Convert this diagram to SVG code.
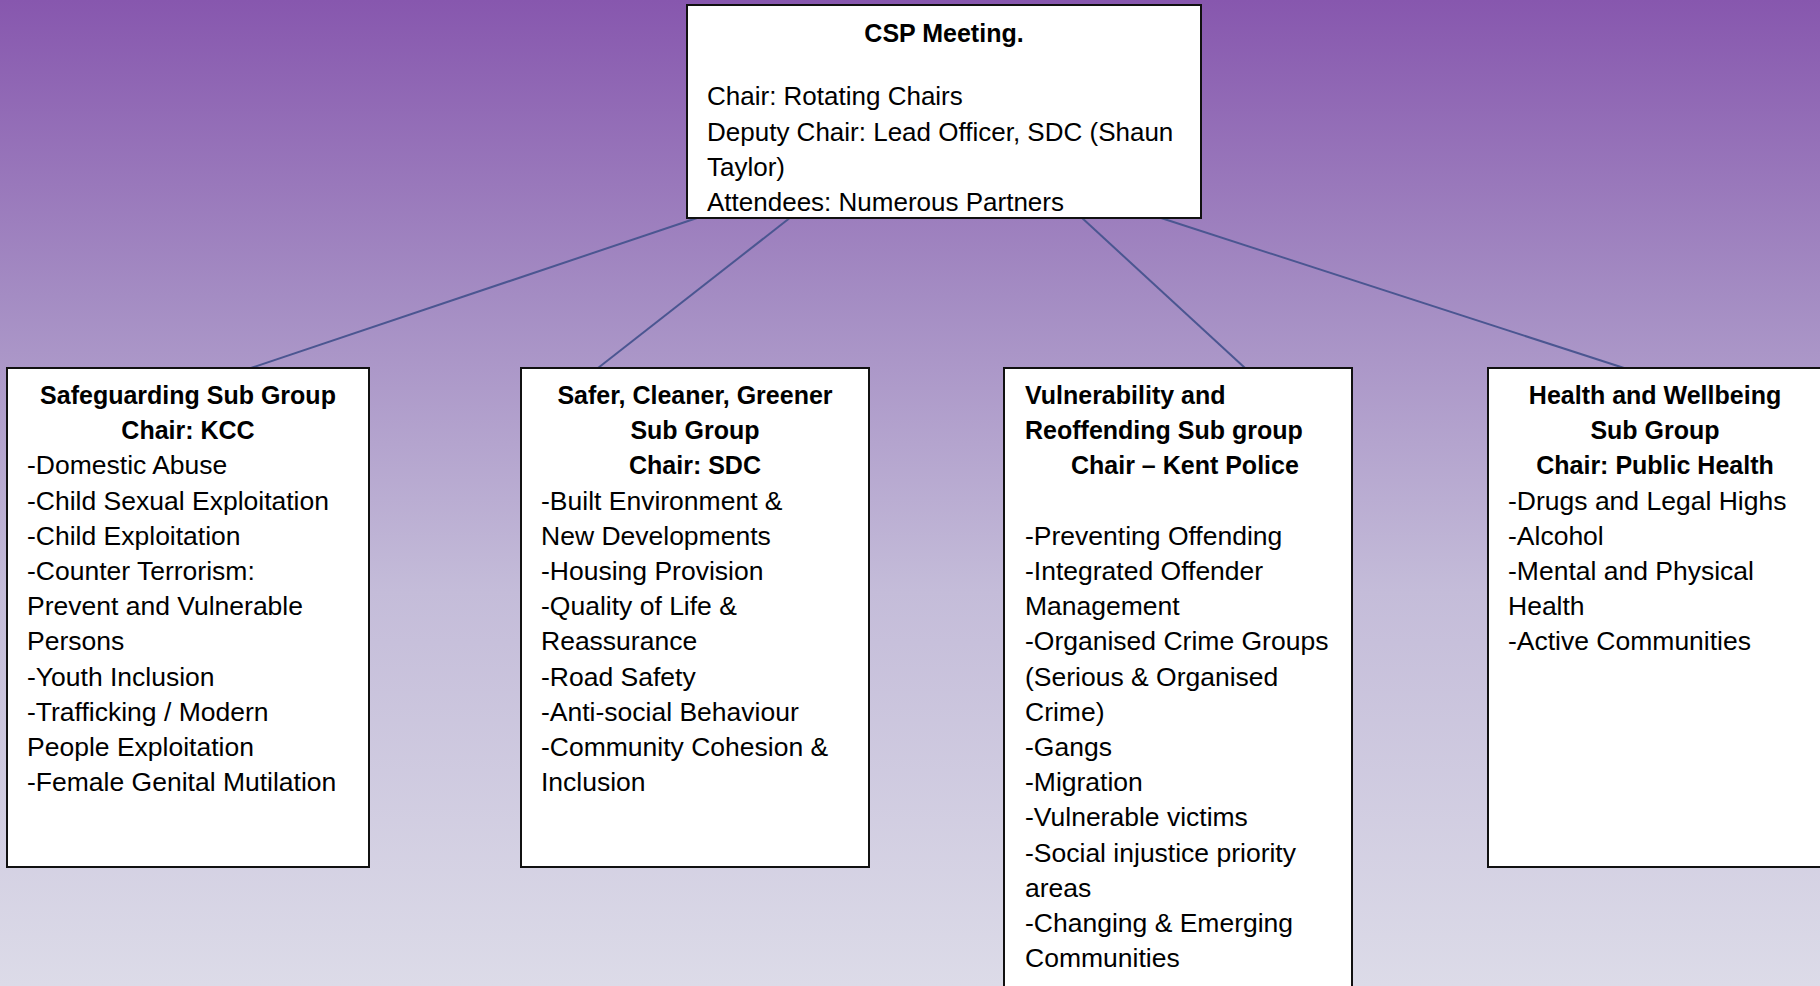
<svg xmlns="http://www.w3.org/2000/svg" width="1820" height="986" viewBox="0 0 1820 986">
  <defs>
    <linearGradient id="bg" x1="0" y1="0" x2="0" y2="1">
      <stop offset="0" stop-color="#8757ae"/>
      <stop offset="0.3" stop-color="#a48cc3"/>
      <stop offset="0.6" stop-color="#c4bcd9"/>
      <stop offset="1" stop-color="#dcdbe8"/>
    </linearGradient>
    <style>
      .box { fill: #ffffff; stroke: #111111; stroke-width: 2; }
      .t { font-family: "Liberation Sans", Arial, sans-serif; font-size: 26.5px; fill: #000000; }
      .tt { font-family: "Liberation Sans", Arial, sans-serif; font-size: 26px; fill: #000000; }
      .b { font-family: "Liberation Sans", Arial, sans-serif; font-size: 25px; font-weight: bold; fill: #000000; }
      .c { text-anchor: middle; }
      .conn { stroke: #4b5691; stroke-width: 2; fill: none; }
    </style>
  </defs>
  <rect x="0" y="0" width="1820" height="986" fill="url(#bg)"/>

  <g id="connectors">
    <line class="conn" x1="700" y1="217" x2="251" y2="368"/>
    <line class="conn" x1="791" y1="217" x2="598" y2="368"/>
    <line class="conn" x1="1081" y1="217" x2="1245" y2="368"/>
    <line class="conn" x1="1158" y1="217" x2="1624" y2="368"/>
  </g>

  <g id="csp-meeting">
    <rect class="box" x="687" y="5" width="514" height="213"/>
    <text class="b c" x="944" y="42">CSP Meeting.</text>
    <text class="tt" x="707" y="105">Chair: Rotating Chairs</text>
    <text class="tt" x="707" y="140.5">Deputy Chair: Lead Officer, SDC (Shaun</text>
    <text class="tt" x="707" y="176">Taylor)</text>
    <text class="tt" x="707" y="211">Attendees: Numerous Partners</text>
  </g>

  <g id="safeguarding">
    <rect class="box" x="7" y="368" width="362" height="499"/>
    <text class="b c" x="188" y="404">Safeguarding Sub Group</text>
    <text class="b c" x="188" y="439.2">Chair: KCC</text>
    <text class="t" x="27" y="474.4">-Domestic Abuse</text>
    <text class="t" x="27" y="509.6">-Child Sexual Exploitation</text>
    <text class="t" x="27" y="544.8">-Child Exploitation</text>
    <text class="t" x="27" y="580">-Counter Terrorism:</text>
    <text class="t" x="27" y="615.2">Prevent and Vulnerable</text>
    <text class="t" x="27" y="650.4">Persons</text>
    <text class="t" x="27" y="685.6">-Youth Inclusion</text>
    <text class="t" x="27" y="720.8">-Trafficking / Modern</text>
    <text class="t" x="27" y="756">People Exploitation</text>
    <text class="t" x="27" y="791.2">-Female Genital Mutilation</text>
  </g>

  <g id="safer-cleaner-greener">
    <rect class="box" x="521" y="368" width="348" height="499"/>
    <text class="b c" x="695" y="404">Safer, Cleaner, Greener</text>
    <text class="b c" x="695" y="439.2">Sub Group</text>
    <text class="b c" x="695" y="474.4">Chair: SDC</text>
    <text class="t" x="541" y="509.6">-Built Environment &amp;</text>
    <text class="t" x="541" y="544.8">New Developments</text>
    <text class="t" x="541" y="580">-Housing Provision</text>
    <text class="t" x="541" y="615.2">-Quality of Life &amp;</text>
    <text class="t" x="541" y="650.4">Reassurance</text>
    <text class="t" x="541" y="685.6">-Road Safety</text>
    <text class="t" x="541" y="720.8">-Anti-social Behaviour</text>
    <text class="t" x="541" y="756">-Community Cohesion &amp;</text>
    <text class="t" x="541" y="791.2">Inclusion</text>
  </g>

  <g id="vulnerability-reoffending">
    <rect class="box" x="1004" y="368" width="348" height="630"/>
    <text class="b" x="1025" y="404">Vulnerability and</text>
    <text class="b" x="1025" y="439.2">Reoffending Sub group</text>
    <text class="b" x="1071" y="474.4">Chair – Kent Police</text>
    <text class="t" x="1025" y="544.8">-Preventing Offending</text>
    <text class="t" x="1025" y="580">-Integrated Offender</text>
    <text class="t" x="1025" y="615.2">Management</text>
    <text class="t" x="1025" y="650.4">-Organised Crime Groups</text>
    <text class="t" x="1025" y="685.6">(Serious &amp; Organised</text>
    <text class="t" x="1025" y="720.8">Crime)</text>
    <text class="t" x="1025" y="756">-Gangs</text>
    <text class="t" x="1025" y="791.2">-Migration</text>
    <text class="t" x="1025" y="826.4">-Vulnerable victims</text>
    <text class="t" x="1025" y="861.6">-Social injustice priority</text>
    <text class="t" x="1025" y="896.8">areas</text>
    <text class="t" x="1025" y="932">-Changing &amp; Emerging</text>
    <text class="t" x="1025" y="967.2">Communities</text>
  </g>

  <g id="health-wellbeing">
    <rect class="box" x="1488" y="368" width="340" height="499"/>
    <text class="b c" x="1655" y="404">Health and Wellbeing</text>
    <text class="b c" x="1655" y="439.2">Sub Group</text>
    <text class="b c" x="1655" y="474.4">Chair: Public Health</text>
    <text class="t" x="1508" y="509.6">-Drugs and Legal Highs</text>
    <text class="t" x="1508" y="544.8">-Alcohol</text>
    <text class="t" x="1508" y="580">-Mental and Physical</text>
    <text class="t" x="1508" y="615.2">Health</text>
    <text class="t" x="1508" y="650.4">-Active Communities</text>
  </g>
</svg>
